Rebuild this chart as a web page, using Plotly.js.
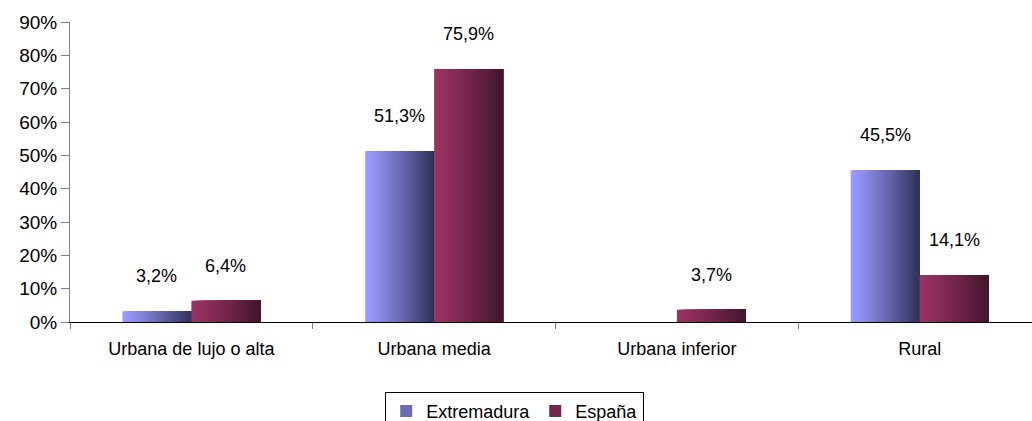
<!DOCTYPE html>
<html>
<head>
<meta charset="utf-8">
<script src="https://cdn.plot.ly/plotly-3.0.1.min.js"></script>
<style>
html,body{margin:0;padding:0;overflow:hidden;background:#fff;}
#chart{width:1045px;height:421px;}
</style>
</head>
<body>
<div id="chart"></div>
<script>
const categories = ["Urbana de lujo o alta", "Urbana media", "Urbana inferior", "Rural"];
const extremadura = [3.2, 51.3, 0, 45.5];
const espana = [6.4, 75.9, 3.7, 14.1];
const seriesNames = ["Extremadura", "España"];
const yTickVals = [0, 10, 20, 30, 40, 50, 60, 70, 80, 90];
const yTickText = yTickVals.map(v => v + "%");

function lerpColor(a, b, t) {
  const c = a.map((v, i) => Math.round(v + (b[i] - v) * t));
  return "rgb(" + c.join(",") + ")";
}
function fmt(v) { return v.toFixed(1).replace(".", ",") + "%"; }

const N = 30;
const barW = 0.284;
const series = [
  {name: seriesNames[0], y: extremadura, from: [154, 154, 255], to: [50, 50, 90], start: -barW},
  {name: seriesNames[1], y: espana, from: [154, 51, 100], to: [68, 22, 46], start: 0}
];
const traces = [];
series.forEach(s => {
  for (let k = 0; k < N; k++) {
    const t = k / (N - 1);
    const tt = Math.pow(t, 1.15);
    traces.push({
      type: "bar", x: categories, y: s.y,
      offset: s.start + k * barW / N,
      width: barW - k * barW / N,
      marker: {color: lerpColor(s.from, s.to, tt), line: {width: 0}},
      showlegend: false, hoverinfo: "skip"
    });
  }
  traces.push({
    type: "bar", x: [categories[0]], y: [null], name: s.name,
    marker: {color: lerpColor(s.from, s.to, 0.45)}, showlegend: true, hoverinfo: "skip"
  });
});

const annotations = [];
series.forEach((s, si) => {
  s.y.forEach((v, i) => {
    if (v > 0) {
      annotations.push({
        x: categories[i], y: v, xref: "x", yref: "y",
        text: fmt(v), showarrow: false, xanchor: "center", yanchor: "middle",
        xshift: (si === 0 ? -0.142 : 0.142) * 242.75, yshift: 35,
        font: {family: "Liberation Sans, Arial, sans-serif", size: 18, color: "#000"}
      });
    }
  });
});

const layout = {
  width: 1045, height: 421,
  margin: {l: 70, r: 4, t: 22, b: 99, autoexpand: false},
  paper_bgcolor: "#fff", plot_bgcolor: "#fff",
  barmode: "overlay",
  font: {family: "Liberation Sans, Arial, sans-serif", size: 18, color: "#000"},
  xaxis: {
    type: "category", showgrid: false, zeroline: false,
    showline: true, linecolor: "#000", linewidth: 1,
    ticks: "outside", ticklen: 6, tickcolor: "#808080", tickson: "boundaries",
    tickfont: {size: 18}, ticklabelstandoff: 10, fixedrange: true,
    range: [-0.5, 3.5]
  },
  yaxis: {
    range: [0, 90], tickvals: yTickVals, ticktext: yTickText,
    showgrid: false, zeroline: false,
    showline: true, linecolor: "#808080", linewidth: 1,
    ticks: "outside", ticklen: 8, tickcolor: "#808080",
    tickfont: {size: 19}, fixedrange: true
  },
  showlegend: true,
  legend: {
    orientation: "h", x: 0.458, xanchor: "center", y: -0.233, yanchor: "top",
    bordercolor: "#000", borderwidth: 1, bgcolor: "#fff",
    font: {size: 18}, traceorder: "normal", itemwidth: 30
  },
  annotations: annotations
};
Plotly.newPlot("chart", traces, layout, {displayModeBar: false, staticPlot: true});
</script>
</body>
</html>
